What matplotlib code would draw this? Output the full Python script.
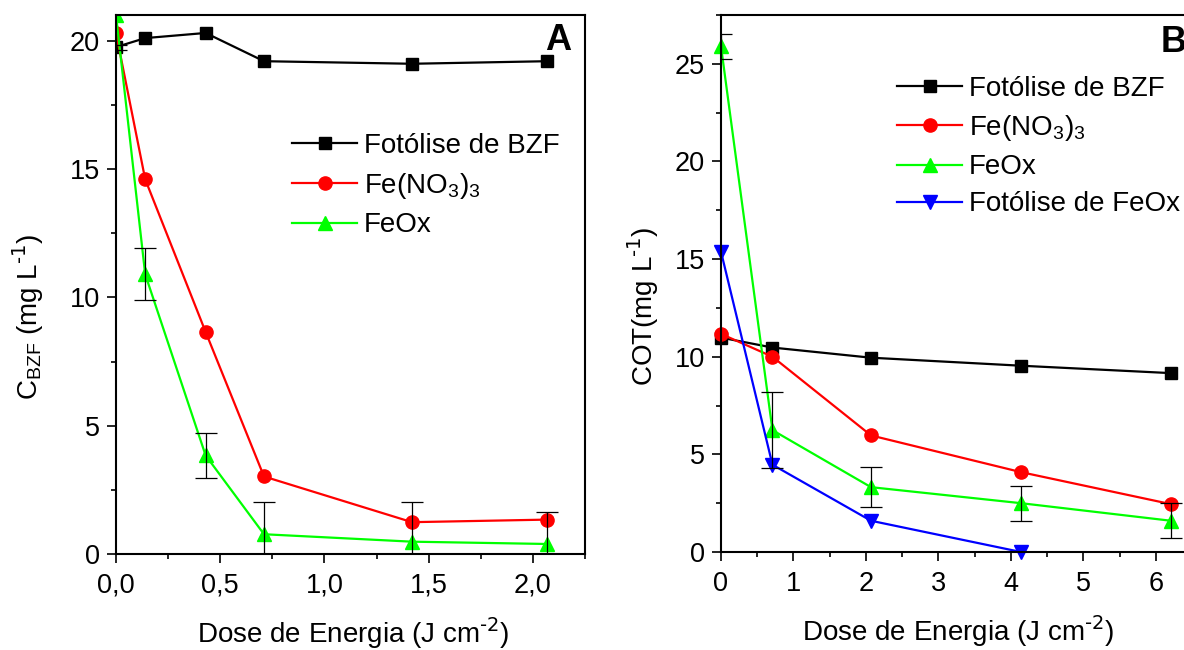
import matplotlib
matplotlib.use("Agg")
import matplotlib.pyplot as plt
import numpy as np
from matplotlib.ticker import MultipleLocator, FuncFormatter

plt.rcParams['font.family'] = ['Liberation Sans', 'DejaVu Sans']
plt.rcParams['mathtext.default'] = 'regular'

# ---------------- data: panel A ----------------
dose_a = [0.0, 0.14, 0.43, 0.71, 1.42, 2.07]
bzf_a = [19.75, 20.1, 20.3, 19.2, 19.1, 19.2]
fe_a = [20.3, 14.6, 8.65, 3.02, 1.24, 1.34]
feox_a = [21.0, 10.9, 3.84, 0.77, 0.48, 0.39]
feox_a_err = [0.0, 1.02, 0.88, 1.27, 1.55, 1.25]

# ---------------- data: panel B ----------------
dose_b = [0.0, 0.71, 2.07, 4.14, 6.21]
bzf_b = [10.98, 10.47, 9.95, 9.54, 9.16]
fe_b = [11.17, 10.0, 5.97, 4.09, 2.45]
feox_b = [25.9, 6.24, 3.32, 2.5, 1.6]
feox_b_err = [0.65, 1.93, 1.04, 0.9, 0.9]
fotfeox_b = [15.38, 4.47, 1.6, 0.0]
dose_fot = [0.0, 0.71, 2.07, 4.14]

labels = ['Fotólise de BZF', 'Fe(NO$_3$)$_3$', 'FeOx', 'Fotólise de FeOx']
colors = ['#000000', '#FF0000', '#00FF00', '#0000FF']

W, H = 1184, 650
fig = plt.figure(figsize=(W / 100, H / 100), dpi=100)

def px_axes(l, r, t, b):
    return [l / W, 1 - b / H, (r - l) / W, (b - t) / H]

axA = fig.add_axes(px_axes(116, 585, 15, 554))
axB = fig.add_axes(px_axes(721, 1192, 15, 552))

lw = 1.6
ms = 8.5

def style(ax):
    for s in ax.spines.values():
        s.set_linewidth(1.5)
    ax.tick_params(which='major', direction='out', length=6.5, width=1.2,
                   labelsize=19.5, top=False, right=False)
    ax.tick_params(which='minor', direction='out', length=3.8, width=1.2,
                   top=False, right=False)
    ax.tick_params(axis='y', which='major', pad=5)
    ax.tick_params(axis='x', which='major', pad=7)

eb_kw = dict(fmt='none', ecolor='black', elinewidth=0.9, capsize=8,
             capthick=0.9, zorder=5)
leg_kw = dict(loc='upper left', bbox_transform=fig.transFigure, frameon=False,
              fontsize=20, borderpad=0, borderaxespad=0, handlelength=2.35,
              handletextpad=0.25, numpoints=1)

# ---------- Panel A ----------
axA.plot(dose_a, bzf_a, '-s', color=colors[0], lw=lw, ms=ms, label=labels[0])
axA.plot(dose_a, fe_a, '-o', color=colors[1], lw=lw, ms=ms + 1, label=labels[1])
axA.plot(dose_a, feox_a, '-^', color=colors[2], lw=lw, ms=ms + 1, label=labels[2])
ea = np.array(feox_a_err)
mA = ea > 0
axA.errorbar(np.array(dose_a)[mA], np.array(feox_a)[mA], yerr=ea[mA], **eb_kw)
axA.errorbar([dose_a[0]], [bzf_a[0]], yerr=[0.1], **eb_kw)

axA.set_xlim(0, 2.25)
axA.set_ylim(0, 21)
axA.xaxis.set_major_locator(MultipleLocator(0.5))
axA.xaxis.set_minor_locator(MultipleLocator(0.25))
axA.yaxis.set_major_locator(MultipleLocator(5))
axA.yaxis.set_minor_locator(MultipleLocator(2.5))
axA.xaxis.set_major_formatter(FuncFormatter(lambda v, p: f"{v:.1f}".replace('.', ',')))
style(axA)
axA.set_xlabel(r'Dose de Energia (J cm$^{\text{-2}}$)', fontsize=20)
axA.set_ylabel(r'C$_{BZF}$ (mg L$^{\text{-1}}$)', fontsize=20)
axA.xaxis.set_label_coords(0.505, -0.114)
axA.yaxis.set_label_coords(-0.15, 0.44)
axA.text(558 / W, 1 - 40 / H, 'A', transform=fig.transFigure, fontsize=26,
         fontweight='bold', ha='center', va='center')
axA.legend(bbox_to_anchor=(292 / W, 1 - 133 / H), labelspacing=0.42, **leg_kw)

# ---------- Panel B ----------
axB.plot(dose_b, bzf_b, '-s', color=colors[0], lw=lw, ms=ms, label=labels[0], clip_on=False)
axB.plot(dose_b, fe_b, '-o', color=colors[1], lw=lw, ms=ms + 1, label=labels[1], clip_on=False)
axB.plot(dose_b, feox_b, '-^', color=colors[2], lw=lw, ms=ms + 1, label=labels[2], clip_on=False)
axB.plot(dose_fot, fotfeox_b, '-v', color=colors[3], lw=lw, ms=ms + 1, label=labels[3], clip_on=False)
axB.errorbar(dose_b, feox_b, yerr=feox_b_err, **eb_kw)

axB.set_xlim(0, 6.5)
axB.set_ylim(0, 27.5)
axB.xaxis.set_major_locator(MultipleLocator(1))
axB.xaxis.set_minor_locator(MultipleLocator(0.5))
axB.yaxis.set_major_locator(MultipleLocator(5))
axB.yaxis.set_minor_locator(MultipleLocator(2.5))
style(axB)
axB.set_xlabel(r'Dose de Energia (J cm$^{\text{-2}}$)', fontsize=20)
axB.set_ylabel(r'COT(mg L$^{\text{-1}}$)', fontsize=20)
axB.xaxis.set_label_coords(0.503, -0.116)
axB.yaxis.set_label_coords(-0.128, 0.458)
axB.text(1174 / W, 1 - 42 / H, 'B', transform=fig.transFigure, fontsize=26,
         fontweight='bold', ha='center', va='center')
axB.legend(bbox_to_anchor=(897 / W, 1 - 76 / H), labelspacing=0.40, **leg_kw)

fig.savefig('out.png', dpi=100)
